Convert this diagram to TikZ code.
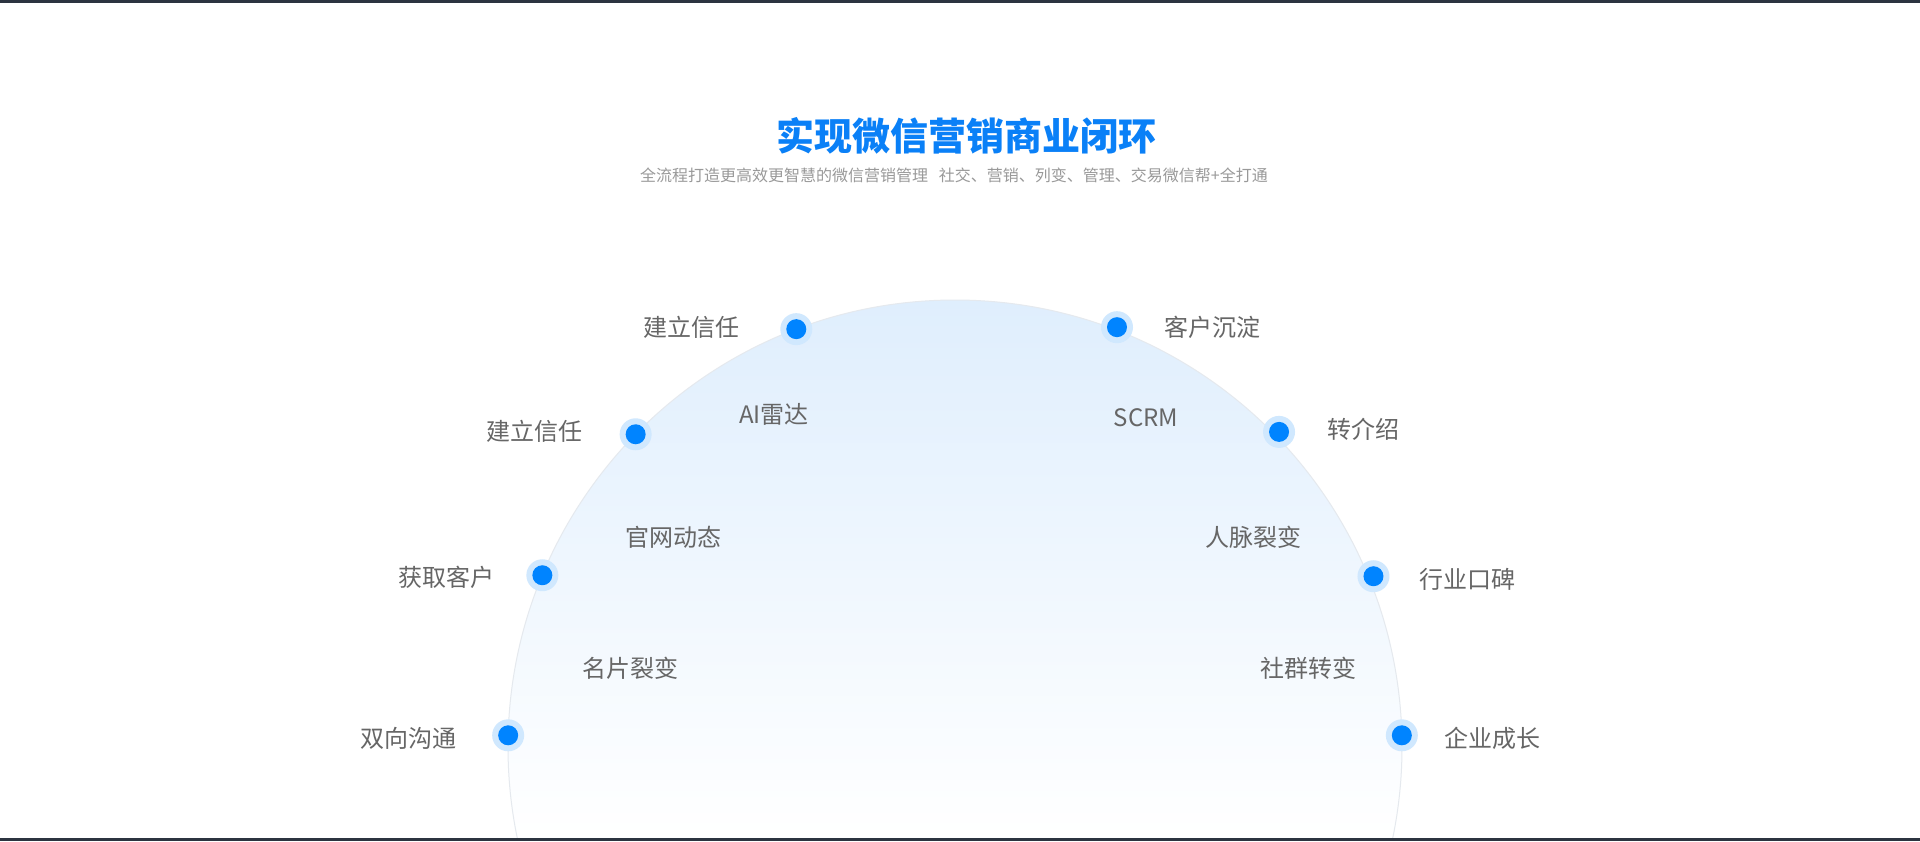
\documentclass[tikz,border=0pt]{standalone}
\usepackage{fontspec}
\setmainfont{Noto Sans CJK SC}
\usepackage{tikz}
\usetikzlibrary{calc}
\definecolor{dotblue}{HTML}{0084FF}
\definecolor{haloblue}{HTML}{D0E8FE}
\definecolor{titleblue}{HTML}{0A80F7}
\definecolor{labelgray}{HTML}{666666}
\definecolor{subgray}{HTML}{999999}
\definecolor{bandgray}{HTML}{2C3440}
\definecolor{archtop}{HTML}{DFEEFD}
\definecolor{archedge}{HTML}{E5E9EE}
\tikzset{
	itemtext/.style={text=labelgray, font=\fontsize{24}{28}\selectfont},
	halo/.style={fill=haloblue},
	dot/.style={fill=dotblue}
}
\begin{document}
\begin{tikzpicture}[x=1pt, y=-1pt]
				\tikzstyle{every node}+=[inner sep=0pt]
				\useasboundingbox (0,0) rectangle (1920,841);
				\fill [white] (0,0) rectangle (1920,841);
				\coordinate (hub) at (955,747);
				\begin{scope}
					\clip (hub) circle (447);
					\shade [top color=archtop, bottom color=white] (500,300) rectangle (1410,838);
				\end{scope}
				\begin{scope}
					\clip (0,0) rectangle (1920,838);
					\draw [archedge, line width=1pt] (hub) circle (447);
				\end{scope}
				\fill [bandgray] (0,0) rectangle (1920,3);
				\fill [bandgray] (0,838) rectangle (1920,841);
				\node (title) at (966,136) [text=titleblue, font=\fontsize{38}{44}\selectfont\bfseries] {实现微信营销商业闭环};
				\node (subtitle) at (954,175) [text=subgray, font=\fontsize{16}{20}\selectfont] {全流程打造更高效更智慧的微信营销管理\ \ \ 社交、营销、列变、管理、交易微信帮+全打通};
				\foreach \ang/\rad/\nm in {110.8/447/a, 135.6/447/b, 157.4/447/c, 178.5/447/d, 68.9/450/e, 44.2/452/f, 22.2/452/g, 1.5/447/h} {
					\coordinate (dot\nm) at ($(hub)+(-\ang:\rad)$);
					\fill [halo] (dot\nm) circle (16);
					\fill [dot] (dot\nm) circle (10);
				}
				\node (trustA) at (691,327) [itemtext] {建立信任};
				\node (settle) at (1212,327) [itemtext] {客户沉淀};
				\node (trustB) at (534,431) [itemtext] {建立信任};
				\node (refer) at (1363,429) [itemtext] {转介绍};
				\node (acquire) at (446,577) [itemtext] {获取客户};
				\node (praise) at (1467,579) [itemtext] {行业口碑};
				\node (talk) at (408,738) [itemtext] {双向沟通};
				\node (grow) at (1492,738) [itemtext] {企业成长};
				\node (radar) at (774,414) [itemtext] {AI雷达};
				\node (scrm) at (1146,418) [itemtext] {SCRM};
				\node (site) at (673,537) [itemtext] {官网动态};
				\node (network) at (1253,537) [itemtext] {人脉裂变};
				\node (card) at (630,668) [itemtext] {名片裂变};
				\node (group) at (1308,668) [itemtext] {社群转变};
\end{tikzpicture}
\end{document}
